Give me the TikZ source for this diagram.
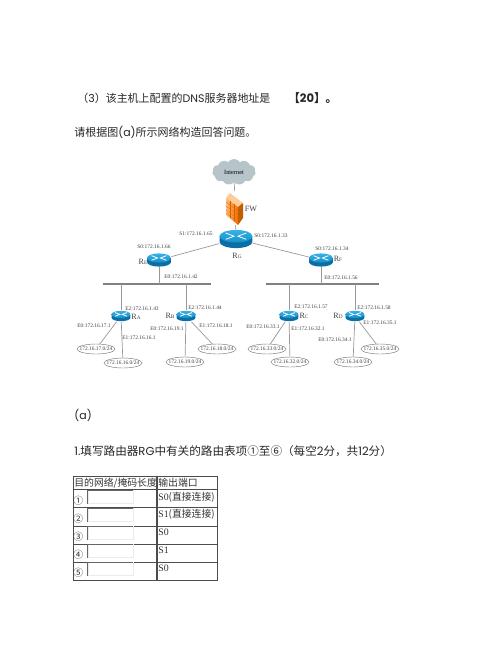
\documentclass[tikz,border=0pt]{standalone}
\usepackage{fontspec}
\setmainfont{Poppins}
\newfontfamily\cjk{Noto Sans CJK SC}
\newfontfamily\serif{Liberation Serif}
\usepackage{tikz}
\usetikzlibrary{shapes.geometric,shapes.symbols}

\definecolor{routerside}{HTML}{0B6FA6}
\definecolor{routertop}{HTML}{37B1E6}
\definecolor{routerlow}{HTML}{1590CC}
\definecolor{cloudgrey}{HTML}{B7C4C9}

\newcommand{\sub}[1]{{\fontsize{3}{3}\selectfont #1}}

\tikzset{
  router/.style={inner sep=0pt,minimum width=2*#1,minimum height=1.14*#1,
    path picture={
      \begin{scope}[shift={(path picture bounding box.center)},x=#1,y=#1]
        \fill[routerside] (-1,.17) -- (-1,-.17) arc[start angle=180,end angle=360,x radius=1,y radius=.38] -- (1,.17) -- cycle;
        \shade[top color=routertop,bottom color=routerlow] (0,.17) ellipse[x radius=1,y radius=.38];
        \draw[white,line width=.45pt] (-.62,.36) -- (-.12,.17) -- (-.62,-.02);
        \draw[white,line width=.45pt] (.62,.36) -- (.12,.17) -- (.62,-.02);
      \end{scope}}},
  firewall/.style={inner sep=0pt,minimum width=.38cm,minimum height=.68cm,
    path picture={
      \begin{scope}[shift={(path picture bounding box.center)},x=.02cm,y=-.02cm]
        \fill[orange!40!white] (-5,-15) -- (8,-5) -- (3,-1) -- (-9,-10) -- cycle;
        \shade[left color=orange!55!white,right color=orange!85!red] (-9,-10) -- (3,-1) -- (3,17) -- (-9,7) -- cycle;
        \fill[orange!75!black] (3,-1) -- (8,-5) -- (8,10) -- (3,17) -- cycle;
        \draw[orange!80!black,line width=.12pt] (-9,-6) -- (3,3) (-9,-2) -- (3,7) (-9,2) -- (3,11) (-9,5) -- (3,14);
        \draw[orange!80!black,line width=.12pt] (-5,-7) -- (-5,10) (-1,-4) -- (-1,13);
      \end{scope}}},
  netlabel/.style={font=\serif\fontsize{3.1}{3.1}\selectfont,text=black!75,inner sep=0pt},
  netname/.style={font=\serif\fontsize{4.6}{4.6}\selectfont,text=black!75,inner sep=0pt},
  lan/.style={draw=black!55,line width=.25pt,ellipse,inner sep=0pt,minimum width=.76cm,minimum height=.2cm,
    label={[netlabel]center:#1}},
  link/.style={draw=black!40,line width=.4pt},
  bus/.style={draw=black!50,line width=.7pt},
  para/.style={font=\fontsize{6.6}{6.6}\selectfont,text=black!85,inner sep=0pt,anchor=west},
  parasmall/.style={para,font=\fontsize{6.25}{6.25}\selectfont},
  cell/.style={font=\serif\fontsize{5.6}{5.6}\selectfont,text=black!80,inner sep=0pt,anchor=west},
  gridline/.style={draw=black!70,line width=.45pt},
  entry/.style={draw=black!8,fill=white,inner sep=0pt,minimum width=.9cm,minimum height=.25cm},
}

\begin{document}
\begin{tikzpicture}[x=.02cm,y=-.02cm]
\useasboundingbox (0,0) rectangle (500,647);

% text above the figure
\node[parasmall] (q3) at (77,98) {{\cjk （}3{\cjk ）该主机上配置的}DNS{\cjk 服务器地址是}};
\node[para] (q20) at (288,98) {\bfseries{\cjk 【}20{\cjk 】。}};
\node[parasmall] (intro) at (74,132) {{\cjk 请根据图}(a){\cjk 所示网络构造回答问题。}};

% network
\node[cloud,cloud puffs=11,cloud puff arc=110,aspect=1.7,fill=cloudgrey,inner sep=0pt,minimum width=.87cm,minimum height=.52cm,font=\serif\fontsize{3.6}{3.6}\selectfont] (cloud) at (234,172) {Internet};
\node[firewall] (FW) at (235,208) {};
\node[netname] (FWname) at (251,209) {FW};

\node[router=.33cm] (RG) at (236,239) {};
\node[router=.24cm] (RE) at (159,260) {};
\node[router=.24cm] (RF) at (321,260) {};
\node[router=.19cm] (RA) at (121,316) {};
\node[router=.19cm] (RB) at (186,316) {};
\node[router=.19cm] (RC) at (289,316) {};
\node[router=.19cm] (RD) at (355,316) {};

\node[netname] (RGname) at (237,256) {R\sub{G}};
\node[netname] (REname) at (143,262) {R\sub{E}};
\node[netname] (RFname) at (338,259) {R\sub{F}};
\node[netname] (RAname) at (136,317) {R\sub{A}};
\node[netname] (RBname) at (170,316) {R\sub{B}};
\node[netname] (RCname) at (304,316) {R\sub{C}};
\node[netname] (RDname) at (338,316) {R\sub{D}};

\coordinate (busEa) at (103,284);
\coordinate (busEb) at (211,284);
\coordinate (busFa) at (266,284);
\coordinate (busFb) at (379,284);

\node[lan=172.16.17.0/24] (net17) at (96,349) {};
\node[lan=172.16.16.0/24] (net16) at (123,363) {};
\node[lan=172.16.19.0/24] (net19) at (185,362) {};
\node[lan=172.16.18.0/24] (net18) at (217,349) {};
\node[lan=172.16.33.0/24] (net33) at (267,349) {};
\node[lan=172.16.32.0/24] (net32) at (290,362) {};
\node[lan=172.16.34.0/24] (net34) at (353,362) {};
\node[lan=172.16.35.0/24] (net35) at (380,349) {};

\draw[link] (cloud) -- (FW);
\draw[link] (FW) -- (RG);
\draw[link] (RG) -- (RE);
\draw[link] (RG) -- (RF);
\draw[bus] (busEa) -- (busEb);
\draw[bus] (busFa) -- (busFb);
\draw[link] (RE) -- (RE |- busEa);
\draw[link] (RF) -- (RF |- busFa);
\draw[link] (RA) -- (RA |- busEa);
\draw[link] (RB) -- (RB |- busEa);
\draw[link] (RC) -- (RC |- busFa);
\draw[link] (RD) -- (RD |- busFa);
\draw[link] (RA) -- (net17);
\draw[link] (RA) -- (net16);
\draw[link] (RB) -- (net19);
\draw[link] (RB) -- (net18);
\draw[link] (RC) -- (net33);
\draw[link] (RC) -- (net32);
\draw[link] (RD) -- (net34);
\draw[link] (RD) -- (net35);

\node[netlabel] (lGa) at (196,234) {S1:172.16.1.65};
\node[netlabel] (lGb) at (271,236) {S0:172.16.1.33};
\node[netlabel] (lEa) at (154,247) {S0:172.16.1.66};
\node[netlabel] (lEb) at (181,277) {E0:172.16.1.42};
\node[netlabel] (lFa) at (332,249) {S0:172.16.1.34};
\node[netlabel] (lFb) at (341,278) {E0:172.16.1.56};
\node[netlabel] (lAa) at (142,309) {E2:172.16.1.43};
\node[netlabel] (lAb) at (94,326) {E0:172.16.17.1};
\node[netlabel] (lAc) at (139,338) {E1:172.16.16.1};
\node[netlabel] (lBa) at (205,308) {E2:172.16.1.44};
\node[netlabel] (lBb) at (167,329) {E0:172.16.19.1};
\node[netlabel] (lBc) at (216,326) {E1:172.16.18.1};
\node[netlabel] (lCa) at (311,307) {E2:172.16.1.57};
\node[netlabel] (lCb) at (263,327) {E0:172.16.33.1};
\node[netlabel] (lCc) at (308,329) {E1:172.16.32.1};
\node[netlabel] (lDa) at (374,308) {E2:172.16.1.58};
\node[netlabel] (lDb) at (335,340) {E0:172.16.34.1};
\node[netlabel] (lDc) at (380,323) {E1:172.16.35.1};

% text below the figure
\node[parasmall] (figa) at (74,415) {(a)};
\node[para] (q1) at (74,451) {1.{\cjk 填写路由器}RG{\cjk 中有关的路由表项①至⑥（每空}2{\cjk 分，共}12{\cjk 分）}};

% table
\draw[gridline] (73,476) rectangle (217,580);
\draw[gridline] (73,489) -- (217,489);
\draw[gridline] (73,507) -- (217,507);
\draw[gridline] (73,526) -- (217,526);
\draw[gridline] (73,544) -- (217,544);
\draw[gridline] (73,562) -- (217,562);
\draw[gridline,line width=.6pt] (157,476) -- (157,580);

\node[cell] (hdA) at (74,483) {\cjk 目的网络/掩码长度};
\node[cell] (hdB) at (158,483) {\cjk 输出端口};

\node[cell] (no1) at (73,501) {\cjk ①};
\node[cell] (no2) at (73,519) {\cjk ②};
\node[cell] (no3) at (73,537) {\cjk ③};
\node[cell] (no4) at (73,555) {\cjk ④};
\node[cell] (no5) at (73,573) {\cjk ⑤};

\node[entry] (box1) at (110.5,497) {};
\node[entry] (box2) at (110.5,515) {};
\node[entry] (box3) at (110.5,533) {};
\node[entry] (box4) at (110.5,551) {};
\node[entry] (box5) at (110.5,569) {};
\draw[black!60,line width=.45pt] (box1.south west) -- (box1.north west) -- (box1.north east);
\draw[black!60,line width=.45pt] (box2.south west) -- (box2.north west) -- (box2.north east);
\draw[black!60,line width=.45pt] (box3.south west) -- (box3.north west) -- (box3.north east);
\draw[black!60,line width=.45pt] (box4.south west) -- (box4.north west) -- (box4.north east);
\draw[black!60,line width=.45pt] (box5.south west) -- (box5.north west) -- (box5.north east);

\node[cell] (outA) at (158,497) {S0{\cjk (直接连接)}};
\node[cell] (outB) at (158,514) {S1{\cjk (直接连接)}};
\node[cell] (outC) at (158,532) {S0};
\node[cell] (outD) at (158,550) {S1};
\node[cell] (outE) at (158,568) {S0};
\end{tikzpicture}
\end{document}
